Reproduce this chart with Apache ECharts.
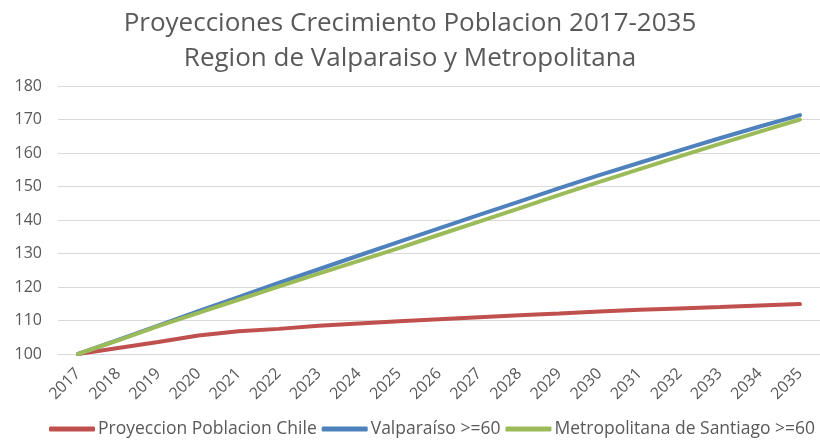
<!DOCTYPE html>
<html>
<head>
<meta charset="utf-8">
<script src="https://cdn.jsdelivr.net/npm/echarts@6/dist/echarts.min.js"></script>
<style>
  html, body { margin: 0; padding: 0; background: #fff; }
  #chart { width: 820px; height: 441px; }
</style>
</head>
<body>
<div id="chart"></div>
<script>
var years = ['2017', '2018', '2019', '2020', '2021', '2022', '2023', '2024', '2025', '2026',
  '2027', '2028', '2029', '2030', '2031', '2032', '2033', '2034', '2035']
var chile = [100, 101.8, 103.6, 105.5, 106.8, 107.5, 108.4, 109.1, 109.8, 110.4,
  111, 111.6, 112.1, 112.7, 113.2, 113.6, 114, 114.5, 114.9]
var valparaiso = [100, 104.2, 108.5, 112.8, 117, 121.2, 125.3, 129.4, 133.5, 137.5,
  141.5, 145.5, 149.5, 153.4, 157.1, 160.8, 164.4, 167.9, 171.3]
var santiago = [100, 104.1, 108.3, 112.3, 116.2, 120.1, 124, 127.8, 131.6, 135.6,
  139.5, 143.5, 147.5, 151.4, 155.2, 159, 162.7, 166.4, 170]

var font = 'Open Sans'
var grey = '#595959'

var myChart = echarts.init(document.getElementById('chart'))
myChart.setOption({
  animation: false,
  title: {
    text: 'Proyecciones Crecimiento Poblacion 2017-2035\nRegion de Valparaiso y Metropolitana',
    left: 'center',
    top: 1,
    textStyle: {
      color: grey,
      fontFamily: font,
      fontWeight: 'normal',
      fontSize: 26,
      lineHeight: 35
    }
  },
  grid: {
    left: 58,
    right: 0,
    top: 86,
    bottom: 87
  },
  xAxis: {
    type: 'category',
    data: years,
    boundaryGap: true,
    axisLine: { lineStyle: { color: '#d9d9d9' } },
    axisTick: { show: false },
    axisLabel: {
      rotate: 45,
      color: grey,
      fontFamily: font,
      fontSize: 16,
      margin: 17
    }
  },
  yAxis: {
    type: 'value',
    min: 100,
    max: 180,
    interval: 10,
    axisLine: { show: false },
    axisTick: { show: false },
    axisLabel: {
      color: grey,
      fontFamily: font,
      fontSize: 16,
      margin: 16
    },
    splitLine: { lineStyle: { color: '#d9d9d9', width: 1 } }
  },
  legend: {
    bottom: -2,
    left: 44,
    padding: [5, 0, 5, 5],
    itemWidth: 46,
    itemHeight: 5,
    itemGap: 5,
    icon: 'roundRect',
    selectedMode: false,
    textStyle: {
      color: grey,
      fontFamily: font,
      fontSize: 17.5,
      padding: [0, 0, 0, -2]
    }
  },
  series: [
    {
      name: 'Proyeccion Poblacion Chile',
      type: 'line',
      data: chile,
      symbol: 'none',
      lineStyle: { color: '#C0504D', width: 4, cap: 'round' },
      itemStyle: { color: '#C0504D' }
    },
    {
      name: 'Valparaíso >=60',
      type: 'line',
      data: valparaiso,
      symbol: 'none',
      lineStyle: { color: '#4F81BD', width: 4, cap: 'round' },
      itemStyle: { color: '#4F81BD' }
    },
    {
      name: 'Metropolitana de Santiago >=60',
      type: 'line',
      data: santiago,
      symbol: 'none',
      lineStyle: { color: '#9BBB59', width: 4, cap: 'round' },
      itemStyle: { color: '#9BBB59' }
    }
  ]
})
</script>
</body>
</html>
